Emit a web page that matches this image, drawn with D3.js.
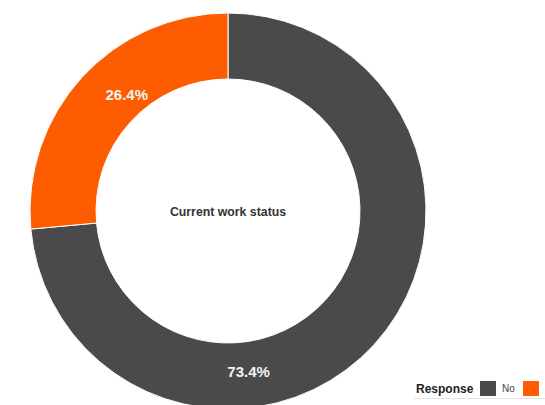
<!DOCTYPE html>
<html>
<head>
<meta charset="utf-8">
<script src="https://cdn.jsdelivr.net/npm/d3@7"></script>
<style>
    body { margin: 0; background: #fff; }
    svg { display: block; font-family: "Liberation Sans", Arial, Helvetica, sans-serif; }
</style>
</head>
<body>
<div id="chart"></div>
<script>
// data
let responses = ["No", "Yes"];
let shares = [73.4, 26.4];
let share_labels = ["73.4%", "26.4%"];
let chart_title = "Current work status";
let legend_title = "Response";

let width = 545;
let height = 405;

// donut geometry
let cx = 228, cy = 211;
let outer = 198, inner = 132;

// where the library put the value labels (angle in degrees, radius)
let label_place = [[172.7, 162], [-41.1, 154]];

let color = d3.scaleOrdinal()
    .domain(responses)
    .range(["#4a4a4a", "#fd5c00"]);

let svg = d3.select("#chart").append("svg")
    .attr("width", width)
    .attr("height", height);

let rows = responses.map((r, i) => ({ response: r, share: shares[i], label: share_labels[i] }));

let pie = d3.pie()
    .sort(null)
    .value(d => d.share);

let arc = d3.arc()
    .innerRadius(inner)
    .outerRadius(outer);

let g = svg.append("g")
    .attr("transform", "translate(" + cx + "," + cy + ")");

g.selectAll(".slice")
    .data(pie(rows))
    .join("path")
    .attr("class", "slice")
    .attr("d", arc)
    .attr("fill", d => color(d.data.response))
    .attr("stroke", "#ffffff")
    .attr("stroke-width", 1);

g.selectAll(".value")
    .data(pie(rows))
    .join("text")
    .attr("class", "value")
    .attr("transform", (d, i) => {
        let p = d3.pointRadial(label_place[i][0] * Math.PI / 180, label_place[i][1]);
        return "translate(" + p[0] + "," + p[1] + ")";
    })
    .attr("text-anchor", "middle")
    .attr("dy", "0.36em")
    .attr("font-size", 15)
    .attr("font-weight", "bold")
    .attr("fill", "#f3f3f3")
    .text(d => d.data.label);

g.append("text")
    .attr("x", 0)
    .attr("y", 4.5)
    .attr("text-anchor", "middle")
    .attr("font-size", 12.3)
    .attr("font-weight", "bold")
    .attr("fill", "#333333")
    .text(chart_title);

// legend (runs off the right edge, like the source)
let legend_x = 416;
let legend = svg.append("g")
    .attr("transform", "translate(" + legend_x + ", 393)");

legend.append("line")
    .attr("x1", -2).attr("x2", 140)
    .attr("y1", 5.5).attr("y2", 5.5)
    .attr("stroke", "#e4e4e4")
    .attr("stroke-width", 1);

legend.append("text")
    .attr("x", 0)
    .attr("y", 0)
    .attr("font-size", 12)
    .attr("font-weight", "bold")
    .attr("fill", "#222222")
    .text(legend_title);

let item_x = i => 64 + i * 43;

let items = legend.selectAll(".item")
    .data(responses)
    .join("g")
    .attr("class", "item")
    .attr("transform", (d, i) => "translate(" + item_x(i) + ",0)");

items.append("rect")
    .attr("x", 0)
    .attr("y", -12)
    .attr("width", 16)
    .attr("height", 15)
    .attr("fill", d => color(d));

// only the labels that still fall inside the frame
items.filter((d, i) => legend_x + item_x(i) + 22 + 20 < width)
    .append("text")
    .attr("x", 22)
    .attr("y", -1)
    .attr("font-size", 10)
    .attr("fill", "#444444")
    .text(d => d);
</script>
</body>
</html>
